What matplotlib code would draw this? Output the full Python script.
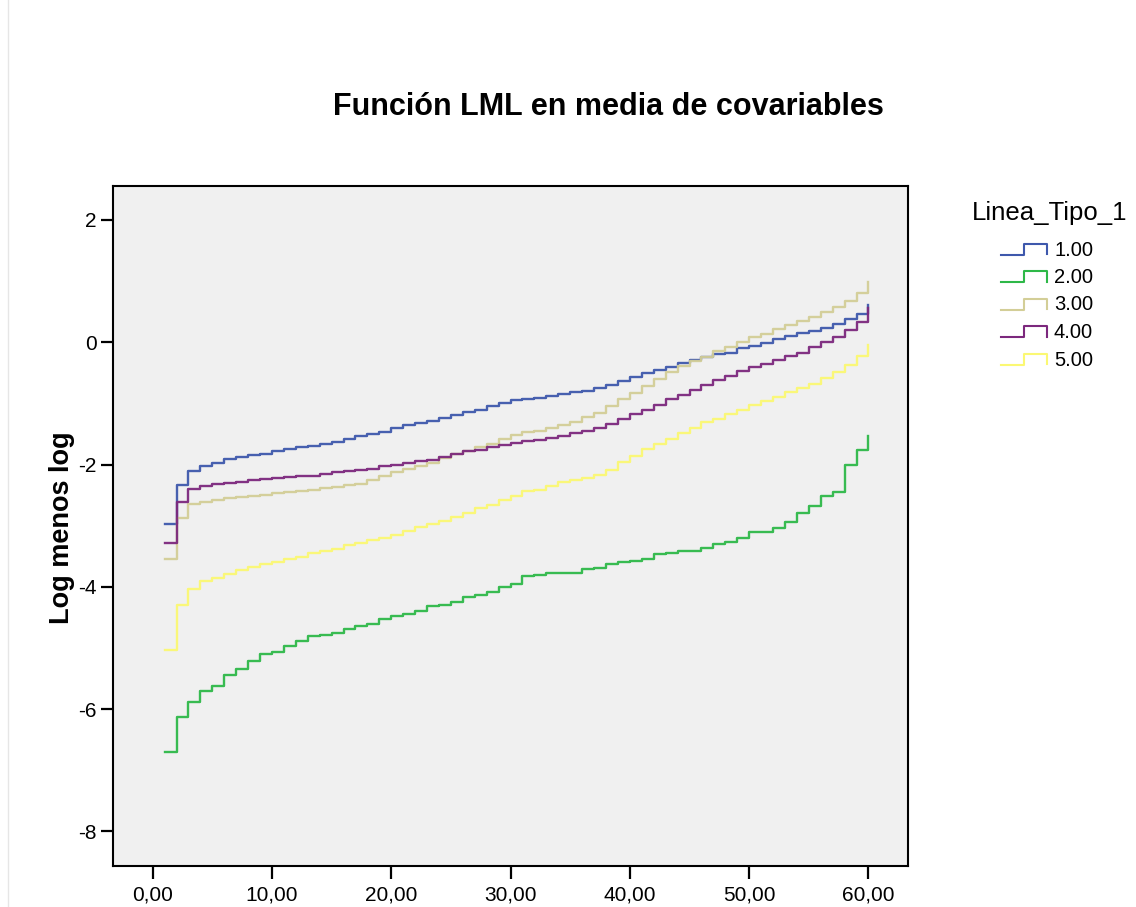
import numpy as np
import matplotlib
matplotlib.use('Agg')
import matplotlib.pyplot as plt

plt.rcParams['font.family'] = ['Liberation Sans', 'DejaVu Sans']
plt.rcParams['axes.unicode_minus'] = False

# survival time (steps at each whole time unit)
tiempo = np.arange(1, 61)

# log(-log S) at covariate means, one curve per Linea_Tipo_1 level
tipo_1 = [-2.97, -2.33, -2.10, -2.02, -1.97, -1.91, -1.87, -1.84, -1.82, -1.78,
          -1.74, -1.71, -1.69, -1.66, -1.63, -1.58, -1.54, -1.50, -1.46, -1.41,
          -1.36, -1.32, -1.29, -1.24, -1.19, -1.14, -1.10, -1.05, -1.00, -0.95,
          -0.92, -0.91, -0.88, -0.85, -0.82, -0.79, -0.75, -0.70, -0.63, -0.57,
          -0.51, -0.46, -0.40, -0.34, -0.29, -0.24, -0.20, -0.17, -0.10, -0.06,
          -0.01, 0.05, 0.10, 0.15, 0.19, 0.23, 0.30, 0.38, 0.47, 0.61]
tipo_2 = [-6.70, -6.13, -5.89, -5.70, -5.62, -5.44, -5.34, -5.22, -5.10, -5.06,
          -4.97, -4.89, -4.80, -4.78, -4.75, -4.69, -4.64, -4.60, -4.53, -4.48,
          -4.44, -4.39, -4.32, -4.29, -4.24, -4.16, -4.14, -4.09, -4.00, -3.95,
          -3.83, -3.80, -3.78, -3.77, -3.77, -3.71, -3.69, -3.63, -3.60, -3.58,
          -3.54, -3.46, -3.45, -3.42, -3.42, -3.36, -3.30, -3.27, -3.20, -3.10,
          -3.10, -3.03, -2.94, -2.80, -2.67, -2.51, -2.45, -2.01, -1.76, -1.54]
tipo_3 = [-3.54, -2.87, -2.65, -2.61, -2.58, -2.55, -2.53, -2.51, -2.49, -2.47,
          -2.45, -2.43, -2.41, -2.39, -2.37, -2.34, -2.31, -2.25, -2.19, -2.13,
          -2.08, -2.03, -1.98, -1.90, -1.83, -1.78, -1.72, -1.66, -1.59, -1.51,
          -1.47, -1.45, -1.41, -1.36, -1.31, -1.23, -1.15, -1.04, -0.93, -0.83,
          -0.72, -0.60, -0.49, -0.39, -0.30, -0.24, -0.15, -0.08, 0.00, 0.08,
          0.14, 0.22, 0.29, 0.35, 0.42, 0.50, 0.57, 0.68, 0.80, 0.99]
tipo_4 = [-3.28, -2.62, -2.40, -2.35, -2.32, -2.30, -2.28, -2.26, -2.24, -2.22,
          -2.21, -2.19, -2.18, -2.15, -2.13, -2.11, -2.09, -2.07, -2.03, -2.01,
          -1.97, -1.95, -1.92, -1.88, -1.83, -1.78, -1.76, -1.71, -1.68, -1.64,
          -1.61, -1.60, -1.57, -1.53, -1.49, -1.45, -1.40, -1.34, -1.26, -1.18,
          -1.10, -1.03, -0.93, -0.86, -0.78, -0.70, -0.62, -0.55, -0.47, -0.40,
          -0.35, -0.29, -0.22, -0.17, -0.08, 0.00, 0.09, 0.20, 0.33, 0.56]
tipo_5 = [-5.03, -4.29, -4.03, -3.91, -3.85, -3.79, -3.72, -3.67, -3.63, -3.59,
          -3.55, -3.51, -3.45, -3.41, -3.38, -3.32, -3.28, -3.23, -3.20, -3.15,
          -3.09, -3.02, -2.97, -2.92, -2.86, -2.80, -2.71, -2.66, -2.58, -2.52,
          -2.44, -2.42, -2.35, -2.28, -2.25, -2.22, -2.17, -2.09, -1.96, -1.86,
          -1.75, -1.67, -1.58, -1.49, -1.40, -1.31, -1.26, -1.18, -1.10, -1.03,
          -0.96, -0.89, -0.82, -0.75, -0.68, -0.59, -0.48, -0.38, -0.23, -0.04]

niveles = ['1.00', '2.00', '3.00', '4.00', '5.00']
curvas = [tipo_1, tipo_2, tipo_3, tipo_4, tipo_5]
colores = ['#3E58AC', '#2EB848', '#D3CE97', '#7C287D', '#FBF873']

xticks = [0, 10, 20, 30, 40, 50, 60]
yticks = [-8, -6, -4, -2, 0, 2]

W, H = 1136, 907
fig = plt.figure(figsize=(W / 100, H / 100), dpi=100)
fig.patch.set_facecolor('white')

ax = fig.add_axes([113.3 / W, 1 - 865.7 / H, (908.3 - 113.3) / W, (865.7 - 185.7) / H])
ax.set_facecolor('#F0F0F0')

for y, c in zip(curvas, colores):
    ax.step(tiempo, y, where='post', color=c, lw=1.7, alpha=0.95)

ax.set_xlim(-3.30, 63.34)
ax.set_ylim(-8.56, 2.56)
ax.set_xticks(xticks)
ax.set_xticklabels(['%d,00' % v for v in xticks], fontsize=15)
ax.set_yticks(yticks)
ax.set_yticklabels([str(v) for v in yticks], fontsize=15)
ax.tick_params(axis='x', length=9.5, width=1.6, pad=5, direction='out')
ax.tick_params(axis='y', length=9, width=1.6, pad=3, direction='out')
for s in ax.spines.values():
    s.set_linewidth(1.5)

fig.text(608 / W, 1 - 107 / H, 'Función LML en media de covariables',
         fontsize=22, fontweight='bold', ha='center', va='center')
fig.text(62 / W, 1 - 528 / H, 'Log menos log', fontsize=19.5,
         fontweight='bold', rotation=90, ha='center', va='center')

# legend drawn on an overlay in pixel units
lax = fig.add_axes([0, 0, 1, 1], facecolor='none')
lax.set_xlim(0, W)
lax.set_ylim(H, 0)
lax.axis('off')
lax.plot([8, 8], [0, H], color='#E6E6E6', lw=1)
lax.text(972, 213, 'Linea_Tipo_1', fontsize=18.5, ha='left', va='center')
for i, (nivel, c) in enumerate(zip(niveles, colores)):
    yc = 250 + i * 27.5
    lax.plot([1001, 1023.5, 1023.5, 1047, 1047],
             [yc + 4.5, yc + 4.5, yc - 6.5, yc - 6.5, yc + 4],
             color=c, lw=1.5)
    lax.text(1054, yc, nivel, fontsize=14.5, ha='left', va='center')

fig.savefig('out.png', dpi=100)
